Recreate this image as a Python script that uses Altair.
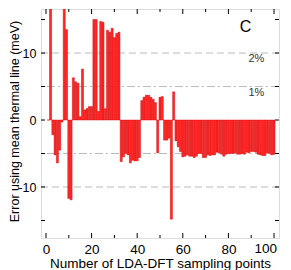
import altair as alt
import pandas as pd

n_points = list(range(1, 101))
err_mev = [0, 25, -2.2, -5.2, -6.4, -4.5, -0.3, 16.9, 13.5, -11.7,
           -11.9, 6.3, 5.7, 5.5, 0.5, 7.6, 1.5, 1.7, 2.0, 2.0,
           15.0, 15.0, 1.3, 14.7, 14.6, 1.7, 13.4, 13.1, 13.7, 12.3,
           12.9, 13.1, -6.2, -5.5, -5.0, -5.2, -6.4, -6.0, -6.1, -6.1,
           -5.6, 2.9, 3.4, 3.7, 3.7, 3.4, 3.1, 2.6, -4.9, 3.4,
           3.5, -3.0, -3.0, -2.7, -14.8, 4.2, -3.1, -4.0, -4.7, -5.5,
           -5.4, -5.2, -5.4, -5.4, -5.6, -5.4, -5.0, -5.0, -5.6, -5.6,
           -5.2, -5.3, -5.2, -5.2, -4.8, -4.9, -5.1, -5.4, -5.1, -5.0,
           -5.0, -5.0, -4.9, -5.1, -5.1, -5.0, -5.1, -4.8, -4.9, -4.7,
           -4.7, -4.8, -5.1, -5.2, -5.3, -5.3, -4.9, -5.0, -5.2, -5.1]

dashed_levels = [10, -10]
dashdot_levels = [5, -5]
pct_labels = ["2%", "1%"]
pct_x = [92.3, 92.3]
pct_y = [9.1, 4.1]
panel_label = ["C"]
panel_x = [87.5]
panel_y = [13.9]
x_major = [0, 20, 40, 60, 80, 100]
x_axis_labels = [0, 20, 40, 60, 80]
x_end_label = [100]
x_minor = [10, 30, 50, 70, 90]
y_ticks = [-15, -10, -5, 0, 5, 10, 15]
y_labels = [-10, 0, 10]

W, H = 238, 229
FONT = "Liberation Sans"

xs = alt.Scale(domain=[0, 100], nice=False, zero=False)
ys = alt.Scale(domain=[-17.61, 16.57], nice=False, zero=False)

df = pd.DataFrame({"n": n_points, "err": err_mev})

bars = alt.Chart(df).mark_bar(
    clip=True, size=2.0, fill="#ff2a2a", stroke="#d80000", strokeWidth=0.5
).encode(
    x=alt.X("n:Q", scale=xs, axis=alt.Axis(
        values=x_axis_labels, ticks=False, domain=False, grid=False, labelFontSize=13.5,
        labelPadding=4, labelFlush=False,
        title="Number of LDA-DFT sampling points",
        titleFontSize=13.5, titleFontWeight="normal", titlePadding=1,
        labelColor="black", titleColor="black", labelFont=FONT, titleFont=FONT)),
    y=alt.Y("err:Q", scale=ys, axis=alt.Axis(
        values=y_labels, ticks=False, domain=False, grid=False, labelFontSize=12.5,
        labelPadding=5,
        labelExpr="datum.value < 0 ? '-' + format(-datum.value, 'd') : datum.label",
        title="Error using mean thermal line (meV)",
        titleFontSize=12.5, titleFontWeight="normal", titleX=-20, titleY=112,
        labelColor="black", titleColor="black", labelFont=FONT, titleFont=FONT)),
    y2=alt.datum(0),
)

end_lab = alt.Chart(pd.DataFrame({"t": x_end_label})).mark_text(
    font=FONT, fontSize=13.5, color="black", align="right", baseline="top", dx=3
).encode(x=alt.X("t:Q", scale=xs), y=alt.value(H + 4), text="t:Q")

dash = alt.Chart(pd.DataFrame({"v": dashed_levels})).mark_rule(
    color="#bbbbbb", strokeWidth=1, strokeDash=[7, 4]
).encode(y=alt.Y("v:Q", scale=ys))

dashdot = alt.Chart(pd.DataFrame({"v": dashdot_levels})).mark_rule(
    color="#bbbbbb", strokeWidth=1, strokeDash=[8, 3, 2, 3]
).encode(y=alt.Y("v:Q", scale=ys))

pct = alt.Chart(pd.DataFrame({"t": pct_labels, "x": pct_x, "y": pct_y})).mark_text(
    font=FONT, fontSize=11, color="#333333"
).encode(x=alt.X("x:Q", scale=xs), y=alt.Y("y:Q", scale=ys), text="t:N")

plab = alt.Chart(pd.DataFrame({"t": panel_label, "x": panel_x, "y": panel_y})).mark_text(
    font=FONT, fontSize=16, color="black"
).encode(x=alt.X("x:Q", scale=xs), y=alt.Y("y:Q", scale=ys), text="t:N")

xmaj = pd.DataFrame({"t": x_major})
xmin = pd.DataFrame({"t": x_minor})
yt = pd.DataFrame({"t": y_ticks})

tb_major = alt.Chart(xmaj).mark_rule(color="black").encode(
    x=alt.X("t:Q", scale=xs), y=alt.value(H), y2=alt.value(H - 5))
tb_minor = alt.Chart(xmin).mark_rule(color="black").encode(
    x=alt.X("t:Q", scale=xs), y=alt.value(H), y2=alt.value(H - 3))
tt_major = alt.Chart(xmaj).mark_rule(color="black").encode(
    x=alt.X("t:Q", scale=xs), y=alt.value(0), y2=alt.value(5))
tt_minor = alt.Chart(xmin).mark_rule(color="black").encode(
    x=alt.X("t:Q", scale=xs), y=alt.value(0), y2=alt.value(3))
tl = alt.Chart(yt).mark_rule(color="black").encode(
    y=alt.Y("t:Q", scale=ys), x=alt.value(0), x2=alt.value(4))
tr = alt.Chart(yt).mark_rule(color="black").encode(
    y=alt.Y("t:Q", scale=ys), x=alt.value(W), x2=alt.value(W - 4))

chart = alt.layer(
    dash, dashdot, bars, pct, plab, end_lab,
    tb_major, tb_minor, tt_major, tt_minor, tl, tr
).properties(
    width=W, height=H,
    autosize=alt.AutoSizeParams(type="none"),
    padding={"left": 33, "top": 1, "right": 4, "bottom": 32},
).configure_view(
    stroke="black", strokeWidth=1
).configure(font=FONT)

chart.save("out.html", embed_options={"renderer": "svg", "actions": False})
